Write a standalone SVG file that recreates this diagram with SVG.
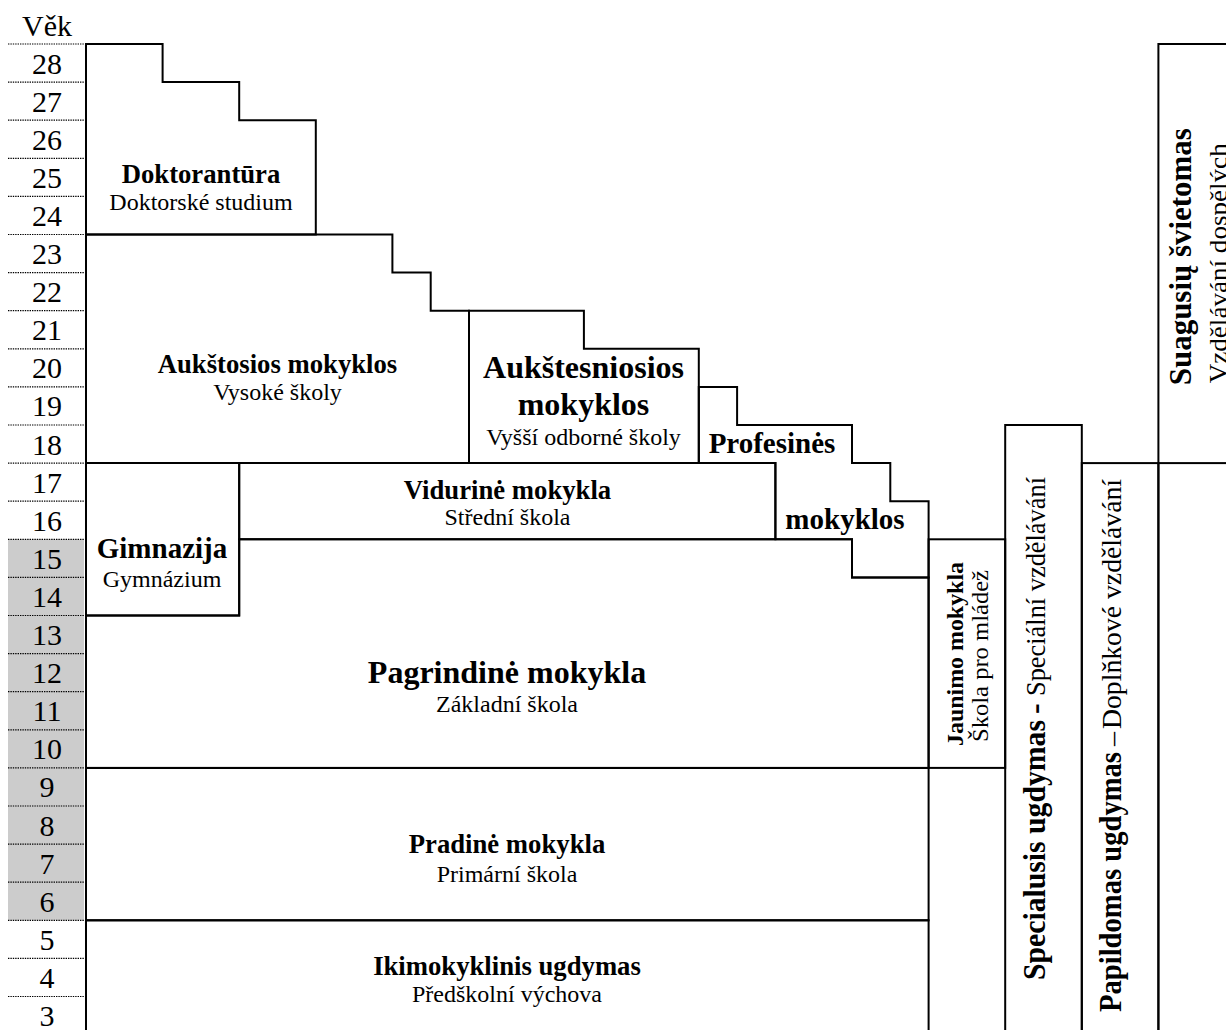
<svg xmlns="http://www.w3.org/2000/svg" width="1226" height="1030" viewBox="0 0 1226 1030">
<style>
text{font-family:"Liberation Serif","Times New Roman",serif;fill:#000}
.b{font-weight:bold}
.c{text-anchor:middle}
.box{fill:none;stroke:#000;stroke-width:2;stroke-linejoin:miter}
.dot{stroke:#000;stroke-width:1.2;stroke-dasharray:1.4 1}
.age{font-size:30px;text-anchor:middle}
.t24{font-size:24px}
.h27{font-size:26.7px}
.h29{font-size:29px}
.h32{font-size:32px}
</style>
<rect x="0" y="0" width="1226" height="1030" fill="#fff"/>
<g id="age-axis">
<rect x="8" y="539.3" width="76" height="381" fill="#cccccc"/>
<g>
<line class="dot" x1="8" y1="44" x2="84" y2="44"/>
<line class="dot" x1="8" y1="82.1" x2="84" y2="82.1"/>
<line class="dot" x1="8" y1="120.2" x2="84" y2="120.2"/>
<line class="dot" x1="8" y1="158.3" x2="84" y2="158.3"/>
<line class="dot" x1="8" y1="196.4" x2="84" y2="196.4"/>
<line class="dot" x1="8" y1="234.5" x2="84" y2="234.5"/>
<line class="dot" x1="8" y1="272.6" x2="84" y2="272.6"/>
<line class="dot" x1="8" y1="310.7" x2="84" y2="310.7"/>
<line class="dot" x1="8" y1="348.8" x2="84" y2="348.8"/>
<line class="dot" x1="8" y1="386.9" x2="84" y2="386.9"/>
<line class="dot" x1="8" y1="425" x2="84" y2="425"/>
<line class="dot" x1="8" y1="463.1" x2="84" y2="463.1"/>
<line class="dot" x1="8" y1="501.2" x2="84" y2="501.2"/>
<line class="dot" x1="8" y1="539.3" x2="84" y2="539.3"/>
<line class="dot" x1="8" y1="577.4" x2="84" y2="577.4"/>
<line class="dot" x1="8" y1="615.5" x2="84" y2="615.5"/>
<line class="dot" x1="8" y1="653.6" x2="84" y2="653.6"/>
<line class="dot" x1="8" y1="691.7" x2="84" y2="691.7"/>
<line class="dot" x1="8" y1="729.8" x2="84" y2="729.8"/>
<line class="dot" x1="8" y1="767.9" x2="84" y2="767.9"/>
<line class="dot" x1="8" y1="806" x2="84" y2="806"/>
<line class="dot" x1="8" y1="844.1" x2="84" y2="844.1"/>
<line class="dot" x1="8" y1="882.2" x2="84" y2="882.2"/>
<line class="dot" x1="8" y1="920.3" x2="84" y2="920.3"/>
<line class="dot" x1="8" y1="958.4" x2="84" y2="958.4"/>
<line class="dot" x1="8" y1="996.5" x2="84" y2="996.5"/>
</g>
<text class="age" x="47" y="36">Věk</text>
<text class="age" x="47" y="73.5">28</text>
<text class="age" x="47" y="111.6">27</text>
<text class="age" x="47" y="149.7">26</text>
<text class="age" x="47" y="187.8">25</text>
<text class="age" x="47" y="225.9">24</text>
<text class="age" x="47" y="264">23</text>
<text class="age" x="47" y="302.1">22</text>
<text class="age" x="47" y="340.2">21</text>
<text class="age" x="47" y="378.3">20</text>
<text class="age" x="47" y="416.4">19</text>
<text class="age" x="47" y="454.5">18</text>
<text class="age" x="47" y="492.6">17</text>
<text class="age" x="47" y="530.7">16</text>
<text class="age" x="47" y="568.8">15</text>
<text class="age" x="47" y="606.9">14</text>
<text class="age" x="47" y="645">13</text>
<text class="age" x="47" y="683.1">12</text>
<text class="age" x="47" y="721.2">11</text>
<text class="age" x="47" y="759.3">10</text>
<text class="age" x="47" y="797.4">9</text>
<text class="age" x="47" y="835.5">8</text>
<text class="age" x="47" y="873.6">7</text>
<text class="age" x="47" y="911.7">6</text>
<text class="age" x="47" y="949.8">5</text>
<text class="age" x="47" y="987.9">4</text>
<text class="age" x="47" y="1026">3</text>
</g>
<g id="doktorantura">
<path class="box" d="M86,44 H162.6 V82.1 H239.2 V120.2 H315.8 V234.5 H86 Z"/>
<text class="b c h27" x="201" y="182.7">Doktorantūra</text>
<text class="c t24" x="201" y="210">Doktorské studium</text>
</g>
<g id="aukstosios">
<path class="box" d="M86,234.5 H392.4 V272.6 H430.7 V310.7 H469 V463.1 H86 Z"/>
<text class="b c h27" x="277.5" y="373.3">Aukštosios mokyklos</text>
<text class="c t24" x="277.5" y="400">Vysoké školy</text>
</g>
<g id="aukstesniosios">
<path class="box" d="M469,310.7 H583.9 V348.8 H698.8 V463.1 H469 Z"/>
<text class="b c h32" x="583.5" y="378.3">Aukštesniosios</text>
<text class="b c h32" x="583.5" y="415">mokyklos</text>
<text class="c t24" x="583.5" y="445">Vyšší odborné školy</text>
</g>
<g id="profesines">
<path class="box" d="M698.8,386.9 H737.1 V425 H852 V463.1 H890.3 V501.2 H928.6 V577.4 H852 V539.3 H775.4 V463.1 H698.8 Z"/>
<text class="b c h29" x="772" y="452.5">Profesinės</text>
<text class="b c h29" x="845" y="528.5">mokyklos</text>
</g>
<g id="vidurine">
<path class="box" d="M239.2,463.1 H775.4 V539.3 H239.2 Z"/>
<text class="b c h27" x="507.5" y="498.5">Vidurinė mokykla</text>
<text class="c t24" x="507.5" y="525">Střední škola</text>
</g>
<g id="gimnazija">
<path class="box" d="M86,463.1 H239.2 V615.5 H86 Z"/>
<text class="b c h29" x="162" y="558.3">Gimnazija</text>
<text class="c t24" x="162" y="586.7">Gymnázium</text>
</g>
<g id="pagrindine">
<path class="box" d="M86,615.5 H239.2 V539.3 H852 V577.4 H928.6 V767.9 H86 Z"/>
<text class="b c h32" x="507" y="682.7">Pagrindinė mokykla</text>
<text class="c t24" x="507" y="711.7">Základní škola</text>
</g>
<g id="pradine">
<rect class="box" x="86" y="767.9" width="842.6" height="152.4"/>
<text class="b c h27" x="507" y="853.3">Pradinė mokykla</text>
<text class="c t24" x="507" y="881.7">Primární škola</text>
</g>
<g id="ikimokyklinis">
<rect class="box" x="86" y="920.3" width="842.6" height="130"/>
<text class="b c h27" x="507" y="975">Ikimokyklinis ugdymas</text>
<text class="c t24" x="507" y="1001.7">Předškolní výchova</text>
</g>
<g id="jaunimo">
<rect class="box" x="928.6" y="539.3" width="76.6" height="228.6"/>
<text class="b c t24" transform="translate(962.5,654) rotate(-90)" textLength="184" lengthAdjust="spacingAndGlyphs">Jaunimo mokykla</text>
<text class="c t24" transform="translate(987.5,656) rotate(-90)" textLength="172" lengthAdjust="spacingAndGlyphs">Škola pro mládež</text>
</g>
<g id="specialusis">
<rect class="box" x="1005.2" y="425" width="76.6" height="625"/>
<g transform="translate(1045,980) rotate(-90)">
<text class="b h32" x="0" y="0" textLength="260" lengthAdjust="spacingAndGlyphs">Specialusis ugdymas</text>
<text class="b h32" x="266" y="0">-</text>
<text font-size="28" x="284" y="0" textLength="219" lengthAdjust="spacingAndGlyphs">Speciální vzdělávání</text>
</g>
</g>
<g id="papildomas">
<rect class="box" x="1081.8" y="463.1" width="76.6" height="587"/>
<g transform="translate(1121,1012) rotate(-90)">
<text class="b h32" x="0" y="0" textLength="260" lengthAdjust="spacingAndGlyphs">Papildomas ugdymas</text>
<text font-size="28" x="266" y="0">–</text>
<text font-size="28" x="283" y="0" textLength="250" lengthAdjust="spacingAndGlyphs">Doplňkové vzdělávání</text>
</g>
</g>
<g id="suagusiu">
<rect class="box" x="1158.4" y="44" width="90" height="419.1"/>
<text class="b c h32" transform="translate(1191,256.7) rotate(-90)" textLength="257" lengthAdjust="spacingAndGlyphs">Suagusių švietomas</text>
<text class="c" font-size="26" transform="translate(1227,263.3) rotate(-90)" textLength="240" lengthAdjust="spacingAndGlyphs">Vzdělávání  dospělých</text>
</g>
<g id="extra-lines">
<line class="box" x1="86" y1="44" x2="86" y2="1040"/>
<line class="box" x1="1158.4" y1="463.1" x2="1158.4" y2="1040"/>
</g>
<g id="connectors"/>
</svg>
